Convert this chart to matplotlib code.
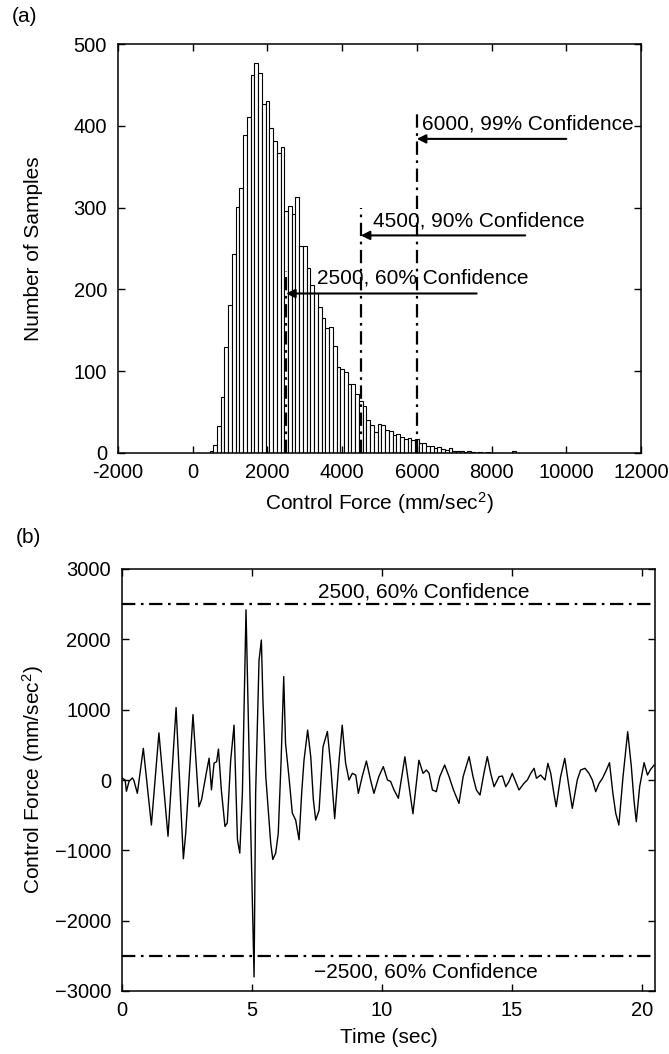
import numpy as np
import matplotlib
matplotlib.use("Agg")
from matplotlib import pyplot as plt

plt.rcParams['font.family'] = ['Liberation Sans', 'DejaVu Sans']
plt.rcParams['mathtext.fontset'] = 'custom'
plt.rcParams['mathtext.rm'] = 'Liberation Sans'
plt.rcParams['mathtext.it'] = 'Liberation Sans:italic'

# histogram of control force, bins of 100 mm/sec^2 starting at 500
bin_start = 500
bin_width = 100
counts = [2, 10, 33, 68, 129, 181, 243, 301, 324, 389,
          411, 462, 477, 465, 427, 430, 397, 381, 367, 374,
          296, 302, 292, 313, 253, 253, 226, 205, 195, 178,
          165, 153, 154, 131, 105, 103, 99, 84, 84, 72,
          64, 58, 40, 34, 26, 35, 34, 28, 27, 22,
          23, 20, 17, 18, 16, 17, 12, 12, 9, 8,
          6, 7, 5, 4, 6, 3, 2, 3, 1, 2,
          1, 0, 1, 0, 1, 0, 0, 0, 0, 0,
          0, 3, 0]
hist_xticks = [-2000, 0, 2000, 4000, 6000, 8000, 10000, 12000]

# confidence levels: value, label, line top, arrow height, arrow tail, text x, text y
conf_values = [2500, 4500, 6000]
conf_labels = ["2500, 60% Confidence", "4500, 90% Confidence", "6000, 99% Confidence"]
conf_line_top = [222, 300, 415]
conf_arrow_y = [195, 266, 384]
conf_arrow_tail = [7600, 8900, 10000]
conf_text_x = [3340, 4820, 6150]
conf_text_y = [207, 277, 396]

# control force time history (sec, mm/sec^2)
time = [0.00, 0.12, 0.17, 0.27, 0.40, 0.46, 0.59, 0.82, 1.13, 1.42,
        1.77, 2.08, 2.36, 2.45, 2.73, 2.96, 3.06, 3.24, 3.35, 3.44,
        3.54, 3.64, 3.71, 3.82, 3.96, 4.05, 4.18, 4.31, 4.44, 4.53,
        4.63, 4.77, 4.92, 5.08, 5.14, 5.27, 5.36, 5.42, 5.53, 5.72,
        5.80, 5.91, 6.01, 6.12, 6.22, 6.29, 6.42, 6.55, 6.68, 6.81,
        6.91, 7.00, 7.14, 7.26, 7.36, 7.45, 7.58, 7.73, 7.90, 8.03,
        8.18, 8.35, 8.47, 8.60, 8.73, 8.86, 8.99, 9.09, 9.24, 9.40,
        9.56, 9.69, 9.88, 10.05, 10.21, 10.33, 10.46, 10.63, 10.88, 11.19,
        11.42, 11.58, 11.71, 11.81, 11.94, 12.09, 12.22, 12.41, 12.58, 12.75,
        12.96, 13.12, 13.35, 13.50, 13.63, 13.77, 13.92, 14.05, 14.18, 14.31,
        14.50, 14.63, 14.76, 14.88, 15.01, 15.14, 15.27, 15.46, 15.59, 15.72,
        15.85, 15.94, 16.10, 16.27, 16.38, 16.49, 16.61, 16.70, 16.87, 17.03,
        17.19, 17.32, 17.51, 17.64, 17.81, 17.96, 18.09, 18.22, 18.35, 18.48,
        18.63, 18.75, 18.88, 18.99, 19.11, 19.27, 19.45, 19.59, 19.69, 19.78,
        19.91, 20.08, 20.21, 20.33, 20.46]
force = [30, 0, -160, -20, 30, -10, -190, 450, -640, 670,
         -800, 1030, -1120, -760, 930, -380, -280, 95, 310, -140,
         240, 260, 440, -140, -660, -610, 280, 780, -850, -1040,
         -190, 2420, -190, -2800, -190, 1700, 1990, 1140, 50, -900,
         -1130, -1040, -760, 280, 1470, 520, 50, -470, -570, -850,
         -190, 280, 710, 330, -280, -570, -430, 470, 690, 190,
         -550, 280, 780, 240, 0, 95, 70, -190, 50, 270,
         0, -190, 50, 190, 0, -20, -140, -260, 330, -480,
         280, 95, 142, 95, -142, -166, 47, 213, 47, -142,
         -332, 47, 332, 47, -142, -213, 95, 332, 95, -95,
         47, 57, -95, -24, 95, -24, -142, -47, 0, 95,
         166, 24, 71, 0, 237, 95, -190, -380, 47, 308,
         -95, -403, 0, 142, 166, 95, 0, -166, -47, 24,
         142, 246, -190, -474, -640, 47, 687, 190, -284, -593,
         -95, 246, 71, 150, 210]

limit_values = [2500, -2500]
limit_labels = ["2500, 60% Confidence", "\u22122500, 60% Confidence"]
time_yticks = [-3000, -2000, -1000, 0, 1000, 2000, 3000]

dashdot = (0, (6, 2.5, 1.2, 2.5))

fig = plt.figure(figsize=(6.69, 10.54), dpi=100)

# (a) histogram
ax1 = fig.add_axes([118/669, 1-453/1054, (641-118)/669, (453-44)/1054])
centers = bin_start + bin_width*np.arange(len(counts))
ax1.bar(centers, counts, width=bin_width, facecolor='white', edgecolor='black', linewidth=0.8)
for i in range(len(conf_values)):
    ax1.plot([conf_values[i], conf_values[i]], [0, conf_line_top[i]], color='black',
             linestyle=dashdot, linewidth=1.6)
    ax1.annotate('', xy=(conf_values[i], conf_arrow_y[i]), xytext=(conf_arrow_tail[i], conf_arrow_y[i]),
                 arrowprops=dict(arrowstyle='-|>', color='black', lw=1.5, mutation_scale=13,
                                 shrinkA=0, shrinkB=0))
    ax1.text(conf_text_x[i], conf_text_y[i], conf_labels[i], fontsize=15, va='baseline', ha='left')
ax1.set_xlim(-2000, 12000)
ax1.set_ylim(0, 500)
ax1.set_xticks(hist_xticks)
ax1.set_xticklabels([str(v) for v in hist_xticks])
ax1.set_yticks(range(0, 501, 100))
ax1.set_xlabel("Control Force (mm/sec$^2$)", fontsize=15, labelpad=6)
ax1.set_ylabel("Number of Samples", fontsize=15, labelpad=22)
fig.text(12/669, 1-17/1054, "(a)", fontsize=15, va='center', ha='left')

# (b) time history
ax2 = fig.add_axes([122/669, 1-991/1054, (655-122)/669, (991-569)/1054])
ax2.plot(time, force, color='black', linewidth=1.0)
for v in limit_values:
    ax2.axhline(v, color='black', linestyle=dashdot, linewidth=1.6)
ax2.text(11.6, 2540, limit_labels[0], fontsize=15, ha='center', va='bottom')
ax2.text(11.7, -2590, limit_labels[1], fontsize=15, ha='center', va='top')
ax2.set_xlim(0, 20.5)
ax2.set_ylim(-3000, 3000)
ax2.set_xticks([0, 5, 10, 15, 20])
ax2.set_yticks(time_yticks)
ax2.set_yticklabels([str(v).replace('-', '\u2212') for v in time_yticks])
ax2.set_xlabel("Time (sec)", fontsize=15, labelpad=6)
ax2.set_ylabel("Control Force (mm/sec$^2$)", fontsize=15, labelpad=6)
fig.text(16/669, 1-538/1054, "(b)", fontsize=15, va='center', ha='left')

for ax in (ax1, ax2):
    for s in ax.spines.values():
        s.set_linewidth(1.1)
    ax.tick_params(direction='in', top=True, right=True, length=5, width=1.0, labelsize=14.5)
    ax.tick_params(axis='y', pad=8)
    ax.tick_params(axis='x', pad=7)

plt.savefig("out.png", dpi=100)
